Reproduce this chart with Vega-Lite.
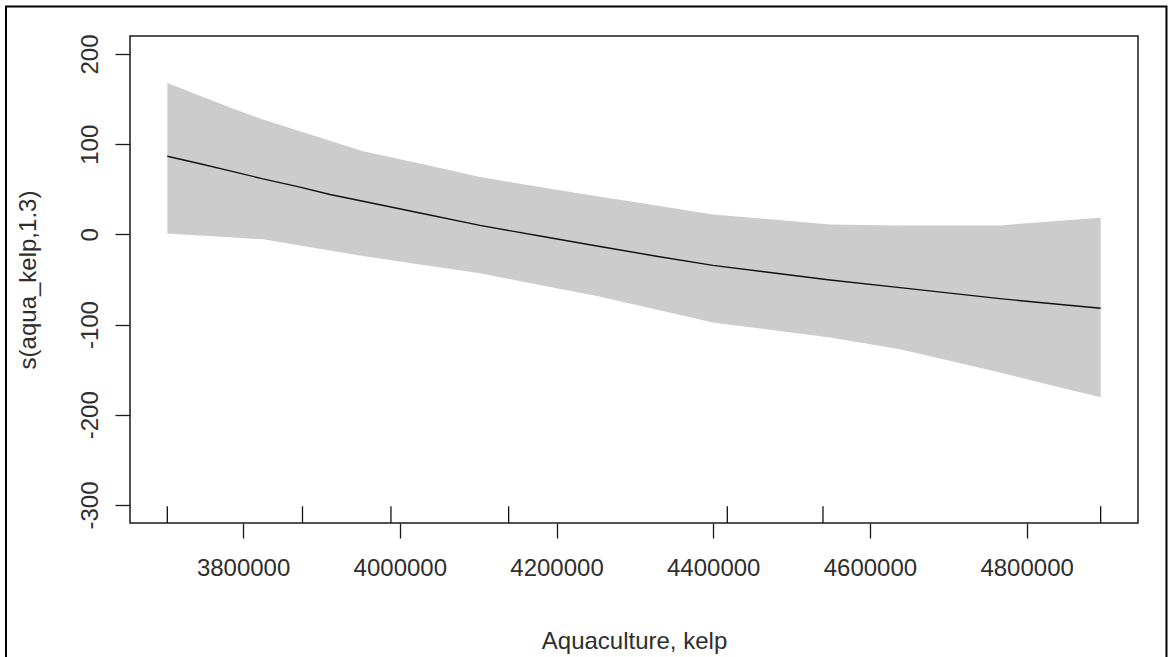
{
  "$schema": "https://vega.github.io/schema/vega-lite/v6.json",
  "width": 1008,
  "height": 487,
  "autosize": {"type": "none"},
  "padding": {"left": 130, "top": 36, "right": 30, "bottom": 134},
  "background": "white",
  "datasets": {
    "curve": [
      {"x": 3703300, "fit": 86.7, "lo": 1.1, "up": 167.9},
      {"x": 3745000, "fit": 78.4, "lo": -1.1, "up": 153.8},
      {"x": 3783300, "fit": 70.5, "lo": -3.2, "up": 140.6},
      {"x": 3825400, "fit": 61.6, "lo": -5.5, "up": 127.3},
      {"x": 3872600, "fit": 52.4, "lo": -12.4, "up": 114.3},
      {"x": 3910900, "fit": 44.3, "lo": -17.9, "up": 103.8},
      {"x": 3953000, "fit": 36.7, "lo": -24.0, "up": 92.2},
      {"x": 4025800, "fit": 23.7, "lo": -33.3, "up": 78.6},
      {"x": 4102400, "fit": 10.0, "lo": -43.2, "up": 63.6},
      {"x": 4178900, "fit": -1.8, "lo": -56.2, "up": 52.5},
      {"x": 4251700, "fit": -12.9, "lo": -68.3, "up": 42.4},
      {"x": 4325700, "fit": -23.9, "lo": -82.9, "up": 32.3},
      {"x": 4399700, "fit": -34.3, "lo": -97.7, "up": 22.1},
      {"x": 4472500, "fit": -42.2, "lo": -105.8, "up": 16.7},
      {"x": 4549100, "fit": -50.6, "lo": -114.3, "up": 11.1},
      {"x": 4638400, "fit": -59.0, "lo": -127.3, "up": 10.0},
      {"x": 4766000, "fit": -71.2, "lo": -153.1, "up": 10.0},
      {"x": 4829900, "fit": -76.6, "lo": -166.9, "up": 14.4},
      {"x": 4894500, "fit": -81.9, "lo": -180.7, "up": 18.5}
    ],
    "rug": [
      {"x": 3703300},
      {"x": 3875800},
      {"x": 3988700},
      {"x": 4138900},
      {"x": 4418000},
      {"x": 4540100},
      {"x": 4894500}
    ]
  },
  "layer": [
    {
      "data": {"name": "curve"},
      "mark": {"type": "area", "color": "#cccccc", "strokeWidth": 0},
      "encoding": {
        "x": {
          "field": "x",
          "type": "quantitative",
          "scale": {"domain": [3655650, 4942150], "nice": false, "zero": false},
          "axis": {
            "values": [3800000, 4000000, 4200000, 4400000, 4600000, 4800000],
            "format": "d",
            "title": "Aquaculture, kelp",
            "titleY": 125,
            "titleBaseline": "alphabetic"
          }
        },
        "y": {
          "field": "lo",
          "type": "quantitative",
          "scale": {"domain": [-320, 220], "nice": false, "zero": false},
          "axis": {
            "values": [-300, -200, -100, 0, 100, 200],
            "labelExpr": "datum.value + ''",
            "title": "s(aqua_kelp,1.3)",
            "labelAngle": -90,
            "labelAlign": "center",
            "labelBaseline": "alphabetic",
            "titleAngle": -90,
            "titleX": -95,
            "titleBaseline": "alphabetic",
            "titleAlign": "center"
          }
        },
        "y2": {"field": "up"}
      }
    },
    {
      "data": {"name": "curve"},
      "mark": {"type": "line", "color": "#111111", "strokeWidth": 1.4},
      "encoding": {
        "x": {"field": "x", "type": "quantitative"},
        "y": {"field": "fit", "type": "quantitative"}
      }
    },
    {
      "data": {"name": "rug"},
      "mark": {"type": "rule", "color": "#111111", "strokeWidth": 1.3},
      "encoding": {
        "x": {"field": "x", "type": "quantitative"},
        "y": {"datum": -320, "type": "quantitative"},
        "y2": {"datum": -301.5}
      }
    },
    {
      "data": {"values": [{}]},
      "mark": {"type": "rect", "fill": null, "fillOpacity": 0, "stroke": "#000000", "strokeWidth": 2, "clip": false},
      "encoding": {
        "x": {"datum": 3497400, "type": "quantitative"},
        "x2": {"datum": 4978500},
        "y": {"datum": 252.7, "type": "quantitative"},
        "y2": {"datum": -483}
      }
    }
  ],
  "config": {
    "font": "Liberation Sans",
    "view": {"stroke": "#1a1a1a", "strokeWidth": 1.5},
    "axis": {
      "grid": false,
      "domain": false,
      "ticks": true,
      "tickColor": "#1a1a1a",
      "tickWidth": 1.3,
      "tickSize": 15,
      "labelFont": "Liberation Sans",
      "labelFontSize": 24,
      "labelColor": "#2e2e2e",
      "labelPadding": 18,
      "labelOverlap": false,
      "labelFlush": false,
      "titleFont": "Liberation Sans",
      "titleFontSize": 24,
      "titleFontWeight": "normal",
      "titleColor": "#2e2e2e"
    }
  }
}
